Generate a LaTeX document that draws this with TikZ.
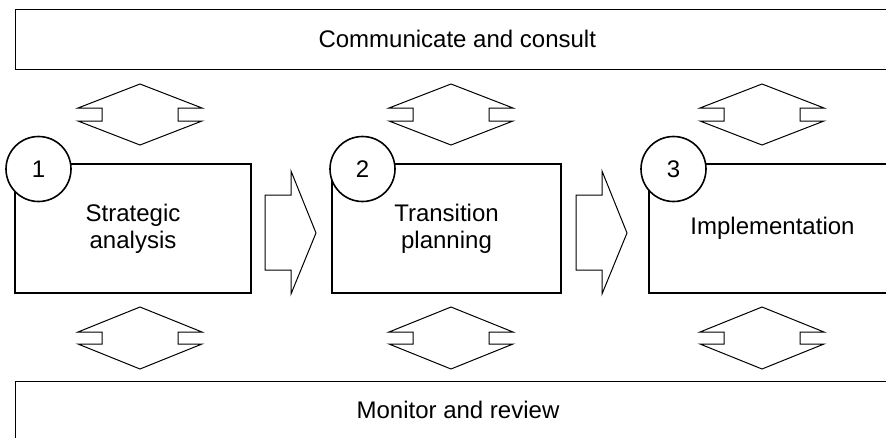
\documentclass[tikz,border=0pt]{standalone}
\usepackage{fontspec}
\setmainfont{Liberation Sans}
\begin{document}
\begin{tikzpicture}[x=1pt,y=-1pt,
  every node/.style={font=\fontsize{24}{27}\selectfont},
  stagebox/.style={draw, line width=1.2pt, align=center, inner sep=0pt},
  band/.style={draw, line width=1.2pt, inner sep=0pt},
  numcirc/.style={draw, circle, fill=white, line width=1.6pt, inner sep=0pt, minimum size=65pt},
  shapeline/.style={draw, line width=1pt, line join=miter}
]
\useasboundingbox (0,0) rectangle (886,437);
\clip (0,0) rectangle (886,437);
% bands
\node[band, minimum width=900pt, minimum height=60pt, anchor=north west] (comm) at (15,9) {};
\node[anchor=base west] (commtxt) at (315,47) {Communicate and consult};
\node[band, minimum width=900pt, minimum height=80pt, anchor=north west] (mon) at (15,381) {};
\node[anchor=base] (montxt) at (458,418) {Monitor and review};
% stage boxes
\node[stagebox, minimum width=236pt, minimum height=129pt] (s1) at (133,228.5) {Strategic\\analysis};
\node[stagebox, minimum width=229pt, minimum height=129pt] (s2) at (446.5,228.5) {Transition\\planning};
\node[stagebox, minimum width=247pt, minimum height=129pt] (s3) at (772.5,228.5) {Implementation};
% number circles
\node[numcirc] (c1) at (38.5,169) {1};
\node[numcirc] (c2) at (362.5,169) {2};
\node[numcirc] (c3) at (673.5,169) {3};
% forward arrows
\foreach \x in {265,576}{
  \draw[shapeline] (\x,195) -- (\x+26,195) -- (\x+26,171) -- (\x+51,233) -- (\x+26,294) -- (\x+26,270) -- (\x,270) -- cycle;
}
% double arrows (top: y 84..145, bottom: y 307..369)
\foreach \cx in {140,451,762}{
  \draw[shapeline] (\cx,84) -- (\cx+62,108) -- (\cx+38,108) -- (\cx+38,121) -- (\cx+62,121) -- (\cx,145) -- (\cx-62,121) -- (\cx-38,121) -- (\cx-38,108) -- (\cx-62,108) -- cycle;
  \draw[shapeline] (\cx,307) -- (\cx+62,332) -- (\cx+38,332) -- (\cx+38,344) -- (\cx+62,344) -- (\cx,369) -- (\cx-62,344) -- (\cx-38,344) -- (\cx-38,332) -- (\cx-62,332) -- cycle;
}
\end{tikzpicture}
\end{document}
